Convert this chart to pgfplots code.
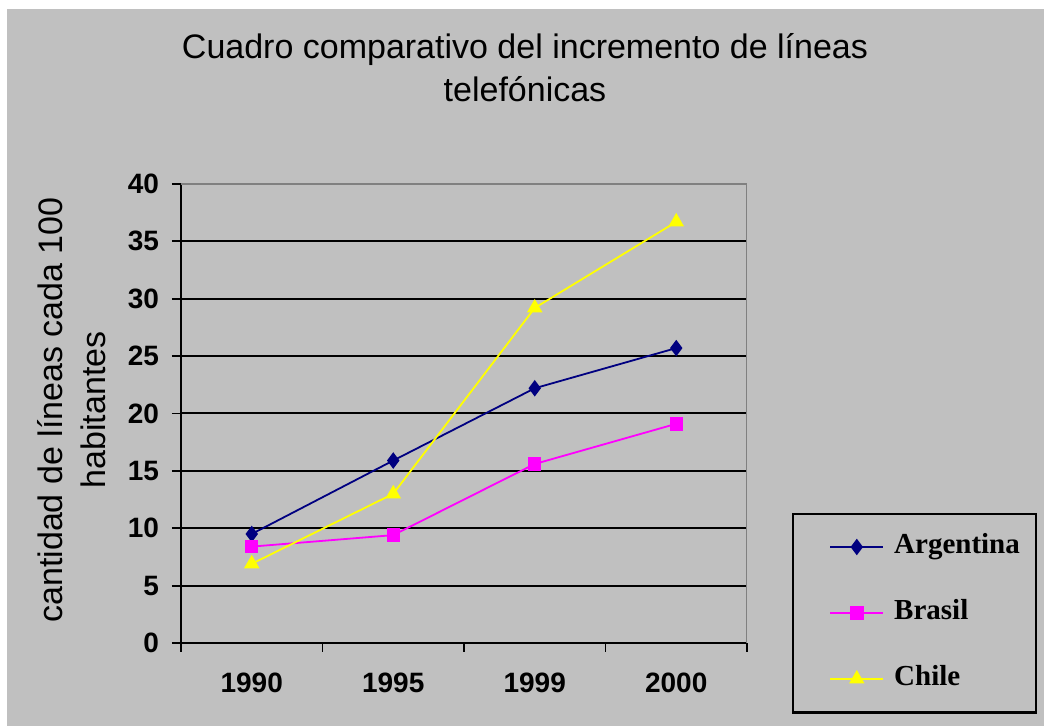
\documentclass[border=0pt]{standalone}
\usepackage{pgfplots}
\pgfplotsset{compat=1.18}
\usepackage{fontspec}
\setmainfont{Liberation Serif}
\setsansfont{Liberation Sans}
\definecolor{bg}{HTML}{C0C0C0}
\definecolor{arg}{HTML}{000080}
\definecolor{bra}{HTML}{FF00FF}
\definecolor{chi}{HTML}{FFFF00}
\definecolor{bord}{HTML}{808080}
\begin{document}
\begin{tikzpicture}
\fill[white] (0,0) rectangle (522pt,363pt);
\fill[bg] (3.5pt,0) rectangle (522pt,358.5pt);
\node[font=\sffamily\fontsize{17}{21.5}\selectfont, align=center] at (262.5pt,329pt)
  {Cuadro comparativo del incremento de líneas\\telefónicas};
\draw[black, line width=1.1pt] (396.5pt,6.75pt) rectangle (518pt,106pt);
\begin{axis}[
  at={(90.5pt,41.5pt)}, anchor=south west,
  scale only axis, width=283pt, height=229.5pt,
  xmin=-0.5, xmax=3.5, ymin=0, ymax=40,
  axis x line*=bottom, axis y line*=left,
  axis line style={black, line width=1.1pt, -},
  tick align=outside, major tick length=4.5pt,
  tick style={black, line width=0.9pt},
  xtick={-0.5,0.5,1.5,2.5,3.5}, xticklabels={},
  extra x ticks={0,1,2,3},
  extra x tick labels={1990,1995,1999,2000},
  extra x tick style={major tick length=0pt, xticklabel style={yshift=-11.5pt}},
  ytick={0,5,...,40},
  ymajorgrids, grid style={black, line width=1pt},
  ticklabel style={font=\sffamily\bfseries\fontsize{14}{16}\selectfont},
  yticklabel style={xshift=-3pt},
  /pgf/number format/assume math mode=true,
  ylabel={cantidad de líneas cada 100\\habitantes},
  ylabel style={font=\sffamily\fontsize{17}{21.5}\selectfont, align=center,
    at={(axis description cs:-0.1935,0.5076)}, anchor=center},
  legend style={at={(axis description cs:1.0813,-0.1525)}, anchor=south west,
    draw=none, fill=none,
    inner xsep=0pt, inner ysep=10.3pt, row sep=20pt, column sep=5pt,
    font=\rmfamily\bfseries\fontsize{14.5}{16}\selectfont,
    nodes={inner sep=0pt, text height=10pt, text depth=3pt}},
  legend cell align=left,
  legend image code/.code={%
    \path (-18pt,0pt);
    \draw[#1, mark repeat=2, mark phase=2] plot coordinates {(0pt,0pt) (13.25pt,0pt) (26.5pt,0pt)};},
]
\draw[bord, line width=1.3pt] (rel axis cs:0,1) -- (rel axis cs:1,1) -- (rel axis cs:1,0);
\addplot[arg, line width=0.9pt, mark=diamond*, mark size=3.4pt, mark options={solid, fill=arg}]
  coordinates {(0,9.5) (1,15.9) (2,22.2) (3,25.7)};
\addlegendentry{Argentina}
\addplot[bra, line width=0.9pt, mark=square*, mark size=2.9pt, mark options={solid, fill=bra}]
  coordinates {(0,8.4) (1,9.4) (2,15.6) (3,19.1)};
\addlegendentry{Brasil}
\addplot[chi, line width=0.9pt, mark=triangle*, mark size=3.6pt, mark options={solid, fill=chi}]
  coordinates {(0,6.9) (1,13.0) (2,29.2) (3,36.7)};
\addlegendentry{Chile}
\end{axis}
\end{tikzpicture}
\end{document}
